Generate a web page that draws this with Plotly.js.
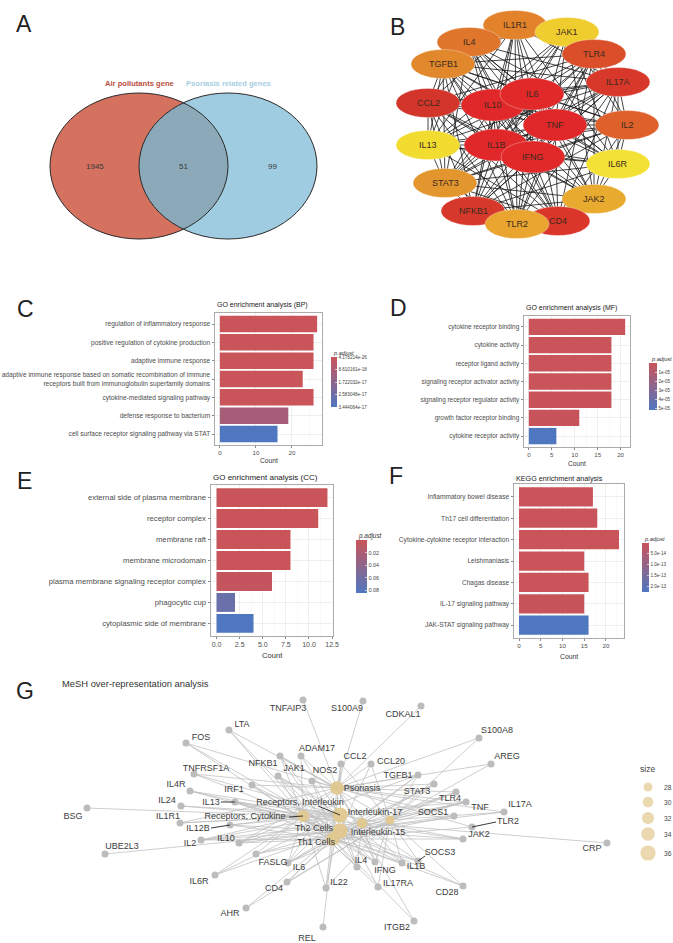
<!DOCTYPE html>
<html><head><meta charset="utf-8">
<script src="https://cdn.plot.ly/plotly-3.0.1.min.js"></script>
<style>html,body{margin:0;padding:0;background:#fff;}#chart{width:673px;height:943px;}</style>
</head><body><div id="chart"></div>
<script>
// ================= DATA =================
// Panel A (Venn)
const vennSets = ["Air pollutants gene", "Psoriasis related genes"];
const vennCounts = [1945, 51, 99]; // left only, shared, right only

// Panel B (PPI network)
const ppiGenes = ["IL1R1","JAK1","IL4","TGFB1","TLR4","IL17A","CCL2","IL10","IL6","TNF","IL2","IL13","IL1B","IFNG","IL6R","STAT3","JAK2","NFKB1","CD4","TLR2"];
const ppiX = [515,567,469,443,594,618,428,493,532,555,627,428,496,533,618,445,594,473,558,517];
const ppiY = [25,32,42,64,54,82,103,105,94,125,125,145,145,157,164,183,199,211,221,224];
const ppiEdges = {
  IL6:  "TNF IL1B IL10 IFNG IL17A IL2 IL4 TGFB1 CCL2 TLR4 STAT3 NFKB1 JAK1 JAK2 CD4 IL1R1 IL13 IL6R TLR2",
  TNF:  "IL1B IL10 IFNG IL17A IL2 IL4 TGFB1 CCL2 TLR4 STAT3 NFKB1 JAK1 JAK2 CD4 IL1R1 IL13 IL6R TLR2",
  IL1B: "IL10 IFNG IL17A IL2 IL4 TGFB1 CCL2 TLR4 STAT3 NFKB1 JAK1 JAK2 CD4 IL1R1 IL13 IL6R TLR2",
  IL10: "IFNG IL17A IL2 IL4 TGFB1 CCL2 TLR4 STAT3 NFKB1 JAK1 JAK2 CD4 IL1R1 IL13 IL6R TLR2",
  IFNG: "IL17A IL2 IL4 TGFB1 CCL2 TLR4 STAT3 NFKB1 JAK1 JAK2 CD4 IL1R1 IL13 IL6R TLR2",
  IL17A:"IL4 IL2 IL13 TGFB1 STAT3 CCL2 TLR4 TLR2 CD4 IL6R JAK2 IL1R1 NFKB1",
  IL2:  "IL4 IL13 TGFB1 STAT3 CD4 JAK1 JAK2 IL6R CCL2 NFKB1 TLR4",
  IL4:  "IL13 STAT3 JAK1 JAK2 CD4 TGFB1 CCL2 IL1R1 IL6R",
  TGFB1:"STAT3 CCL2 NFKB1 TLR4 TLR2 CD4 IL13 IL6R",
  CCL2: "TLR4 TLR2 NFKB1 STAT3 IL13 IL1R1 CD4 JAK2",
  TLR4: "TLR2 NFKB1 STAT3 IL1R1 JAK2 CD4 JAK1",
  STAT3:"JAK1 JAK2 IL6R NFKB1 IL13 TLR2 CD4",
  NFKB1:"TLR2 IL1R1 JAK2 CD4 IL6R",
  JAK1: "JAK2 IL6R IL13 IL1R1",
  JAK2: "IL6R CD4 TLR2",
  CD4:  "TLR2 IL13",
  IL1R1:"IL6R TLR2 IL13",
  IL13: "IL6R"
};

// Panel C (GO BP)
const bpTerms = ["regulation of inflammatory response","positive regulation of cytokine production","adaptive immune response","adaptive immune response based on somatic recombination of immune<br>receptors built from immunoglobulin superfamily domains","cytokine-mediated signaling pathway","defense response to bacterium","cell surface receptor signaling pathway via STAT"];
const bpCount = [27, 26, 26, 23, 26, 19, 16];
const bpPadj = [4.178214e-26, 2.1e-24, 5.6e-24, 1.3e-22, 3.9e-24, 1.0e-17, 3.444064e-17];
const bpTicks = [4.178214e-26, 8.610161e-18, 1.722032e-17, 2.583048e-17, 3.444064e-17];
const bpTickText = ["4.178214e-26","8.610161e-18","1.722032e-17","2.583048e-17","3.444064e-17"];

// Panel D (GO MF)
const mfTerms = ["cytokine receptor binding","cytokine activity","receptor ligand activity","signaling receptor activator activity","signaling receptor regulator activity","growth factor receptor binding","cytokine receptor activity"];
const mfCount = [21, 18, 18, 18, 18, 11, 6];
const mfPadj = [2.4e-11, 1.2e-09, 1.5e-07, 1.6e-07, 2.3e-07, 5.8e-07, 5.21e-05];
const mfTicks = [1e-05, 2e-05, 3e-05, 4e-05, 5e-05];
const mfTickText = ["1e-05","2e-05","3e-05","4e-05","5e-05"];

// Panel E (GO CC)
const ccTerms = ["external side of plasma membrane","receptor complex","membrane raft","membrane microdomain","plasma membrane signaling receptor complex","phagocytic cup","cytoplasmic side of membrane"];
const ccCount = [12, 11, 8, 8, 6, 2, 4];
const ccPadj = [1.1e-07, 2.3e-05, 1.3e-04, 1.3e-04, 3.5e-03, 0.066, 0.084];
const ccTicks = [0.02, 0.04, 0.06, 0.08];
const ccTickText = ["0.02","0.04","0.06","0.08"];

// Panel F (KEGG)
const keggTerms = ["Inflammatory bowel disease","Th17 cell differentiation","Cytokine-cytokine receptor interaction","Leishmaniasis","Chagas disease","IL-17 signaling pathway","JAK-STAT signaling pathway"];
const keggCount = [17, 18, 23, 15, 16, 15, 16];
const keggPadj = [3.2e-21, 4.1e-21, 1.9e-20, 2.6e-17, 1.5e-16, 2.5e-15, 2.27e-13];
const keggTicks = [5e-14, 1e-13, 1.5e-13, 2e-13];
const keggTickText = ["5.0e-14","1.0e-13","1.5e-13","2.0e-13"];

// Panel G (MeSH network)
const meshTerms = ["Psoriasis","Receptors, Interleukin","Receptors, Cytokine","Th2 Cells","Th1 Cells","Interleukin-17","Interleukin-15"];
const meshKey = ["P","RI","RC","T2","T1","I17","I15"];
const meshSize = [34, 36, 32, 36, 34, 28, 30];
const meshX = [337, 340, 303, 340, 333, 390, 362];
const meshY = [788, 815, 816, 831, 839, 820, 823];
const meshLabelX = [362, 300, 245, 314, 316, 375, 378];
const meshLabelY = [789, 803, 817, 829, 843, 813, 833];

const geneNames = ["TNFAIP3","S100A9","CDKAL1","LTA","FOS","ADAM17","NFKB1","JAK1","NOS2","CCL2","CCL20","S100A8","AREG","TGFB1","STAT3","TLR4","TNF","SOCS1","IL17A","TLR2","JAK2","CRP","SOCS3","IL1B","IFNG","IL4","IL17RA","CD28","ITGB2","REL","IL22","AHR","CD4","IL6R","IL6","FASLG","UBE2L3","IL10","IL2","IL12B","IL1R1","BSG","IL13","IL24","IRF1","IL4R","TNFRSF1A"];
const geneX = [303,363,421,229,186,301,280,278,312,341,371,479,491,418,434,456,466,454,504,472,463,607,418,402,375,357,378,463,414,323,326,246,287,215,288,256,105,239,201,230,180,87,235,181,252,190,194];
const geneY = [700,701,706,730,743,756,756,776,781,764,764,738,764,775,784,792,802,816,812,827,839,843,861,863,862,867,887,886,921,927,888,908,882,875,863,854,854,843,840,825,823,808,802,806,785,791,774];
const geneLabelX = [288,347,403,242,201,317,263,294,325,355,391,497,507,398,417,450,480,433,520,508,479,592,440,416,385,361,398,447,397,307,339,230,274,199,299,273,122,226,190,198,168,73,211,167,234,176,206];
const geneLabelY = [709,709,715,725,738,749,764,769,771,757,762,731,757,776,792,799,808,813,805,822,835,849,853,867,871,861,884,893,928,939,883,914,889,882,868,863,847,839,844,829,817,817,803,801,790,785,769];
const geneLinks = ["P","P","P","P T1 RC","P T1 T2","P RC RI","P T1 T2 I17 RC","RI RC T2 T1 I15","P T1 T2","P T1 T2 I17","P I17 T2","P I17","P I17","T2 T1 I17 P RC","T2 T1 I17 I15 P","P T1 T2 I17","RC P T1 T2 I17 I15","T1 T2 P","I17 P T2","P T1","RI RC T2 T1","I15","T2 T1 I17 I15","RC RI P T1 I17","RC T1 T2 P I17 I15","RC RI T2 T1 I15","RC RI I17","T1 T2 I17","P T1","T1","RC RI I17 P","T2 I17","T2 T1 I17","RC RI T2","RC RI T2 T1 P I17 I15","T1 T2 P","T2","RC RI T2 T1 P","RC RI T1 T2 I15","RC RI T1 T2","RC RI P","RC","RC RI T2 T1","RC RI","T1 T2 P","RC RI T2","RC RI P"];
// ggrepel connector segments: [label-side x, label-side y, target name]
const repelSegs = [[221,802,"IL13"],[211,828,"IL12B"],[496,822,"TLR2"],[425,856,"SOCS3"],[318,806,"Receptors, Interleukin"],[289,817,"Receptors, Cytokine"]];
const legendSizes = [28, 30, 32, 34, 36];

// ================= STYLE / BUILD =================
const W = 673, H = 943;
const FONT = '"Liberation Sans", Arial, Helvetica, sans-serif';
const RED = '#c9545a', BLUE = '#4f77c0';
const traces = [], shapes = [], annotations = [];
function A(text, x, y, size, color, opts) {
  annotations.push(Object.assign({text: text, x: x, y: y, xref: 'x', yref: 'y', showarrow: false,
    font: {family: FONT, size: size, color: color || '#333'}}, opts || {}));
}
const layout = {
  width: W, height: H, margin: {l: 0, r: 0, t: 0, b: 0, pad: 0},
  paper_bgcolor: '#fff', plot_bgcolor: '#fff', showlegend: false,
  font: {family: FONT},
  xaxis: {domain: [0, 1], range: [0, W], visible: false, fixedrange: true},
  yaxis: {domain: [0, 1], range: [H, 0], visible: false, fixedrange: true},
  shapes: shapes, annotations: annotations
};

// Panel letters
const panelLetters = ["A","B","C","D","E","F","G"];
const letterPos = [[24,24],[397,27],[25,309],[398,308],[24,481],[396,476],[25,691]];
panelLetters.forEach((l, i) => A(l, letterPos[i][0], letterPos[i][1], 23, '#222'));

// ---------- Panel A ----------
const vg = {cxL: 139, cxR: 228, cy: 166, rx: 89, ry: 73};
function ell(cx, cy, rx, ry, fill, line, layer) {
  shapes.push({type: 'circle', xref: 'x', yref: 'y', x0: cx - rx, x1: cx + rx, y0: cy - ry, y1: cy + ry,
    fillcolor: fill, line: line, layer: layer || 'below'});
}
ell(vg.cxL, vg.cy, vg.rx, vg.ry, '#d4715f', {width: 0});
ell(vg.cxR, vg.cy, vg.rx, vg.ry, '#a0cce1', {width: 0});
(function () {
  const t0 = Math.acos(((vg.cxR - vg.cxL) / 2) / vg.rx);
  const pts = [];
  const n = 40;
  for (let i = 0; i <= n; i++) { const t = -t0 + 2 * t0 * i / n; pts.push([vg.cxL + vg.rx * Math.cos(t), vg.cy + vg.ry * Math.sin(t)]); }
  for (let i = 0; i <= n; i++) { const t = Math.PI - t0 + 2 * t0 * i / n; pts.push([vg.cxR + vg.rx * Math.cos(t), vg.cy + vg.ry * Math.sin(t)]); }
  const path = 'M' + pts.map(p => p[0].toFixed(2) + ',' + p[1].toFixed(2)).join('L') + 'Z';
  shapes.push({type: 'path', xref: 'x', yref: 'y', path: path, fillcolor: '#8ba9b8', line: {width: 0}, layer: 'below'});
})();
ell(vg.cxL, vg.cy, vg.rx, vg.ry, 'rgba(0,0,0,0)', {width: 1, color: '#2a2a2a'});
ell(vg.cxR, vg.cy, vg.rx, vg.ry, 'rgba(0,0,0,0)', {width: 1, color: '#2a2a2a'});
A('<b>' + vennSets[0] + '</b>', vg.cxL, vg.cy - vg.ry - 10, 7.6, '#b9503f');
A('<b>' + vennSets[1] + '</b>', vg.cxR, vg.cy - vg.ry - 10, 7.6, '#a6cfe2');
A(String(vennCounts[0]), (vg.cxL + vg.cxR) / 2 - vg.rx, vg.cy, 8, '#3a3a3a');
A(String(vennCounts[1]), (vg.cxL + vg.cxR) / 2, vg.cy, 8, '#3a3a3a');
A(String(vennCounts[2]), (vg.cxL + vg.cxR) / 2 + vg.rx, vg.cy, 8, '#3a3a3a');

// ---------- Panel B ----------
const ppiColor = {IL1R1:'#e2832c', JAK1:'#f0cd2e', IL4:'#e0762b', TGFB1:'#e1882c', TLR4:'#db4e2a', IL17A:'#d8382a', CCL2:'#d3352b', IL10:'#e0282a', IL6:'#e1292a', TNF:'#e0282a', IL2:'#de612b', IL13:'#f2dc30', IL1B:'#e0282a', IFNG:'#e1292a', IL6R:'#f3e235', STAT3:'#e4962e', JAK2:'#e8aa2f', NFKB1:'#d6392b', CD4:'#da362a', TLR2:'#e9a52f'};
const hubs = ["IL10","IL6","TNF","IL1B","IFNG"];
(function () {
  const idx = {}; ppiGenes.forEach((g, i) => idx[g] = i);
  const ex = [], ey = [];
  Object.keys(ppiEdges).forEach(a => {
    ppiEdges[a].split(' ').forEach(b => {
      ex.push(ppiX[idx[a]], ppiX[idx[b]], null);
      ey.push(ppiY[idx[a]], ppiY[idx[b]], null);
    });
  });
  traces.push({type: 'scatter', mode: 'lines', x: ex, y: ey, xaxis: 'x', yaxis: 'y',
    line: {color: 'rgba(25,25,25,0.9)', width: 0.9}, hoverinfo: 'skip'});
  ppiGenes.forEach((g, i) => {
    const ry = hubs.indexOf(g) >= 0 ? 16 : 14.5;
    ell(ppiX[i], ppiY[i], 32, ry, ppiColor[g], {width: 0.6, color: 'rgba(255,255,255,0.5)'}, 'above');
    A(g, ppiX[i], ppiY[i], 9, '#3a2a1e');
  });
})();

// ---------- Panels C-F ----------
function barPanel(idx, terms, counts, padj, cfg) {
  const xa = 'x' + idx, ya = 'y' + idx;
  traces.push({type: 'bar', orientation: 'h', x: counts, y: terms, xaxis: xa, yaxis: ya, width: 0.9,
    hoverinfo: 'skip',
    marker: {color: padj.map(v => -v), colorscale: [[0, BLUE], [1, RED]], cmin: -cfg.cmax, cmax: -cfg.cmin,
      line: {width: 0}, showscale: true,
      colorbar: {x: cfg.cb[0] / W, xanchor: 'left', y: 1 - cfg.cb[1] / H, yanchor: 'top',
        len: cfg.cb[2], lenmode: 'pixels', thickness: cfg.cb[3], thicknessmode: 'pixels',
        xpad: 0, ypad: 0, outlinewidth: 0, borderwidth: 0,
        tickmode: 'array', tickvals: cfg.ticks.map(v => -v), ticktext: cfg.tickText,
        ticks: 'inside', ticklen: 2, tickcolor: '#fff', tickwidth: 0.6,
        tickfont: {family: FONT, size: cfg.cbFont, color: '#444'}}}});
  layout['xaxis' + idx] = {domain: [cfg.x0 / W, cfg.x1 / W], anchor: ya, range: cfg.xr, fixedrange: true,
    tickmode: 'linear', tick0: 0, dtick: cfg.dtick, tickformat: cfg.fmt || '',
    showgrid: true, gridcolor: '#ebebeb', gridwidth: 0.8, zeroline: false,
    minor: {tickmode: 'linear', tick0: cfg.dtick / 2, dtick: cfg.dtick, showgrid: true, gridcolor: '#f5f5f5', gridwidth: 0.6, ticks: ''},
    showline: true, mirror: true, linecolor: '#ababab', linewidth: 1,
    ticks: 'outside', ticklen: 2, tickwidth: 0.7, tickcolor: '#555',
    tickfont: {family: FONT, size: cfg.numFont, color: '#4d4d4d'}};
  layout['yaxis' + idx] = {domain: [1 - cfg.y1 / H, 1 - cfg.y0 / H], anchor: xa, type: 'category',
    categoryorder: 'array', categoryarray: terms, range: [terms.length - 0.4, -0.6], fixedrange: true,
    showgrid: true, gridcolor: '#ebebeb', gridwidth: 0.8, zeroline: false,
    showline: true, mirror: true, linecolor: '#ababab', linewidth: 1,
    ticks: 'outside', ticklen: 2.5, tickwidth: 0.7, tickcolor: '#555',
    tickfont: {family: FONT, size: cfg.catFont, color: '#4d4d4d'}};
  A(cfg.title, cfg.x0, cfg.titleY, cfg.titleFont, '#222', {xanchor: 'left'});
  A('Count', (cfg.x0 + cfg.x1) / 2, cfg.countY, cfg.numFont + 0.6, '#333');
  A('<i>p.adjust</i>', cfg.cb[0], cfg.cb[1] - 4, cfg.cbFont + 1, '#333', {xanchor: 'left'});
}
const xC = -0.05 * Math.max(...bpCount), xD = -0.05 * Math.max(...mfCount), xE = -0.05 * Math.max(...ccCount), xF = -0.05 * Math.max(...keggCount);
barPanel(2, bpTerms, bpCount, bpPadj, {x0: 215, x1: 322, y0: 313, y1: 445,
  xr: [xC, Math.max(...bpCount) * 1.05], dtick: 10, title: 'GO enrichment analysis (BP)', titleY: 305, countY: 460,
  titleFont: 7, catFont: 6.6, numFont: 6.1,
  cmin: bpPadj.reduce((a, b) => Math.min(a, b)), cmax: bpPadj.reduce((a, b) => Math.max(a, b)),
  ticks: bpTicks, tickText: bpTickText, cb: [331, 357, 50, 6], cbFont: 4.6});
barPanel(3, mfTerms, mfCount, mfPadj, {x0: 524, x1: 630, y0: 316, y1: 447,
  xr: [xD, Math.max(...mfCount) * 1.05], dtick: 5, title: 'GO enrichment analysis (MF)', titleY: 308, countY: 463,
  titleFont: 7, catFont: 6.4, numFont: 6.1,
  cmin: 0, cmax: mfPadj.reduce((a, b) => Math.max(a, b)),
  ticks: mfTicks, tickText: mfTickText, cb: [649, 363, 47, 8], cbFont: 4.6});
barPanel(4, ccTerms, ccCount, ccPadj, {x0: 211, x1: 333, y0: 485, y1: 636,
  xr: [xE, Math.max(...ccCount) * 1.05], dtick: 2.5, fmt: '.1f', title: 'GO enrichment analysis (CC)', titleY: 477, countY: 655,
  titleFont: 8, catFont: 7.7, numFont: 7,
  cmin: 0, cmax: ccPadj.reduce((a, b) => Math.max(a, b)),
  ticks: ccTicks, tickText: ccTickText, cb: [356, 540, 53, 11], cbFont: 5.4});
barPanel(5, keggTerms, keggCount, keggPadj, {x0: 514, x1: 624, y0: 484, y1: 638,
  xr: [xF, Math.max(...keggCount) * 1.05], dtick: 5, title: 'KEGG enrichment analysis', titleY: 478, countY: 656,
  titleFont: 7.2, catFont: 6.6, numFont: 6.2,
  cmin: 0, cmax: keggPadj.reduce((a, b) => Math.max(a, b)),
  ticks: keggTicks, tickText: keggTickText, cb: [642, 543, 49, 7], cbFont: 4.6});

// ---------- Panel G ----------
A('MeSH over-representation analysis', 60, 683, 9.4, '#333', {xanchor: 'left'});
const sizePx = s => 9 + (s - 28) * 0.78;
(function () {
  const mi = {}; meshKey.forEach((k, i) => mi[k] = i);
  const ex = [], ey = [];
  geneNames.forEach((g, i) => {
    geneLinks[i].split(' ').forEach(k => {
      const j = mi[k];
      ex.push(geneX[i], meshX[j], null); ey.push(geneY[i], meshY[j], null);
    });
  });
  traces.push({type: 'scatter', mode: 'lines', x: ex, y: ey, xaxis: 'x', yaxis: 'y',
    line: {color: 'rgba(190,190,190,0.75)', width: 1}, hoverinfo: 'skip'});
  traces.push({type: 'scatter', mode: 'markers', x: geneX, y: geneY, xaxis: 'x', yaxis: 'y',
    marker: {color: '#bcbcbc', size: 7, line: {width: 0}}, hoverinfo: 'skip'});
  traces.push({type: 'scatter', mode: 'markers', x: meshX, y: meshY, xaxis: 'x', yaxis: 'y',
    marker: {color: '#e2c88f', size: meshSize.map(sizePx), line: {width: 0}, opacity: 0.95}, hoverinfo: 'skip'});
  // repel connectors
  const sx = [], sy = [];
  repelSegs.forEach(s => {
    let gi = geneNames.indexOf(s[2]), tx, ty;
    if (gi >= 0) { tx = geneX[gi]; ty = geneY[gi]; } else { const m = meshTerms.indexOf(s[2]); tx = meshX[m]; ty = meshY[m]; }
    sx.push(s[0], tx, null); sy.push(s[1], ty, null);
  });
  traces.push({type: 'scatter', mode: 'lines', x: sx, y: sy, xaxis: 'x', yaxis: 'y',
    line: {color: '#222', width: 0.9}, hoverinfo: 'skip'});
  traces.push({type: 'scatter', mode: 'text', x: geneLabelX.concat(meshLabelX), y: geneLabelY.concat(meshLabelY),
    text: geneNames.concat(meshTerms), xaxis: 'x', yaxis: 'y', textposition: 'middle center',
    textfont: {family: FONT, size: 9, color: '#3c3c3c'}, hoverinfo: 'skip'});
  // size legend
  const legY = [787, 802, 818, 834, 853];
  traces.push({type: 'scatter', mode: 'markers', x: legendSizes.map(() => 648), y: legY, xaxis: 'x', yaxis: 'y',
    marker: {color: '#e2c88f', size: legendSizes.map(sizePx), line: {width: 0}}, hoverinfo: 'skip'});
  A('size', 647, 769, 8.5, '#444');
  legendSizes.forEach((s, i) => A(String(s), 662, legY[i], 6.6, '#444', {xanchor: 'left'}));
})();

Plotly.newPlot('chart', traces, layout, {displayModeBar: false, staticPlot: true});
</script>
</body></html>
